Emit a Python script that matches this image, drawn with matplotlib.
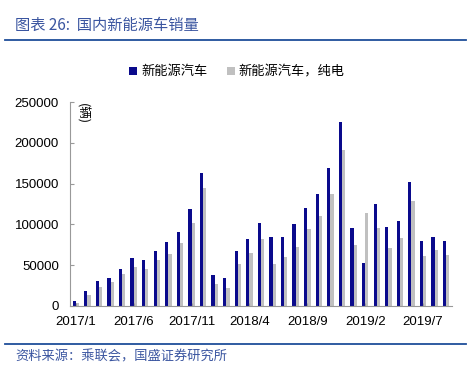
import numpy as np
import matplotlib
matplotlib.use("Agg")
import matplotlib.pyplot as plt

plt.rcParams['font.family'] = ['Liberation Sans', 'Noto Sans CJK SC', 'DejaVu Sans']

# monthly sales 2017/1 - 2019/9
months = []
for y in (2017, 2018, 2019):
    for m in range(1, 13):
        months.append(f"{y}/{m}")
months = months[:33]

nev = [5700, 17900, 31000, 33800, 44900, 58700, 55900, 67700, 77900, 90500, 119000, 163100,
       37900, 33800, 67700, 82000, 102000, 84000, 84000, 100700, 120700, 137800, 168800, 225100,
       95800, 53000, 125600, 97000, 104000, 151700, 79500, 84800, 79500]
bev = [4000, 13500, 23700, 29000, 38700, 47700, 44900, 55900, 63600, 77100, 102000, 144000,
       26500, 22400, 51800, 64800, 82000, 51800, 60000, 72600, 93800, 110900, 137800, 191700,
       74600, 113800, 95400, 71000, 82800, 128500, 60800, 68500, 62800]

blue = '#0A0A8C'
gray = '#C0C0C0'
rule = '#1F4E9A'
txt_blue = '#3A55A0'

fig = plt.figure(figsize=(4.74, 3.74), dpi=100)
ax = fig.add_axes([70/474, 1 - 306/374, (452-70)/474, (306-102)/374])

x = np.arange(len(months))
w = 0.28
ax.bar(x - w/2, nev, width=w, color=blue, label='新能源汽车')
ax.bar(x + w/2, bev, width=w, color=gray, label='新能源汽车，纯电')

ax.set_xlim(-0.5, len(months) - 0.5)
ax.set_ylim(0, 250000)
ax.set_yticks(np.arange(0, 250001, 50000))
ax.set_yticklabels([str(v) for v in range(0, 250001, 50000)], fontsize=9.5)
ax.set_xticks(x[::5])
ax.set_xticklabels([months[i] for i in range(0, 33, 5)], fontsize=9.5)
ax.tick_params(axis='y', direction='in', length=3, color='#999999', pad=8)
ax.tick_params(axis='x', direction='in', length=2, color='#999999', pad=7)
for s in ('top', 'right'):
    ax.spines[s].set_visible(False)
for s in ('left', 'bottom'):
    ax.spines[s].set_color('#999999')
    ax.spines[s].set_linewidth(0.8)

ax.text(0.5, 249000, '(辆)', rotation=-90, fontsize=9, va='top', ha='center',
        family=['Noto Sans CJK SC'])

fig.legend(loc='center', bbox_to_anchor=(0.5, 1 - 72/374), ncol=2, frameon=False,
           handlelength=0.6, handleheight=0.6, handletextpad=0.3, columnspacing=1.5,
           prop={'family': ['Noto Sans CJK SC'], 'size': 9.5})

fig.text(15/474, 1 - 25/374, '图表 26:  国内新能源车销量', fontsize=11, color=txt_blue,
         style='italic', va='center', family=['Noto Sans CJK SC'])
fig.add_artist(plt.Line2D([5/474, 466/474], [1 - 40/374, 1 - 40/374], color=rule, lw=1.3))
fig.add_artist(plt.Line2D([5/474, 466/474], [1 - 344/374, 1 - 344/374], color=rule, lw=1.3))
fig.text(15/474, 1 - 357/374, '资料来源：乘联会，国盛证券研究所', fontsize=9.5, color=txt_blue,
         style='italic', va='center', family=['Noto Sans CJK SC'])

fig.savefig('out.png', dpi=100)
